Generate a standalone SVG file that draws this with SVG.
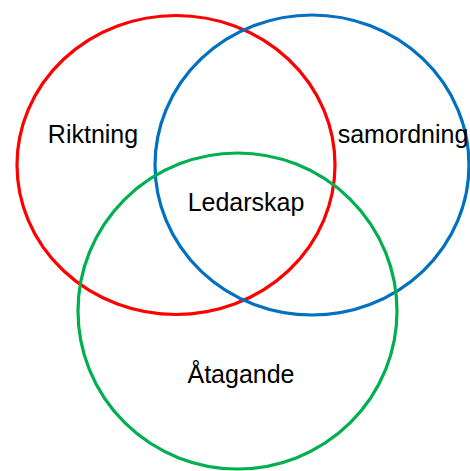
<svg xmlns="http://www.w3.org/2000/svg" width="470" height="471" viewBox="0 0 470 471">
<style>
.c{fill:none;stroke-width:3.2}
.t{font-family:"Liberation Sans",Arial,sans-serif;font-size:25px;fill:#000;text-anchor:middle}
</style>
<rect width="470" height="471" fill="#fff"/>
<g id="riktning">
<ellipse class="c" cx="176" cy="165" rx="159" ry="149.5" stroke="#FF0000"/>
<text class="t" x="93" y="143">Riktning</text>
</g>
<g id="samordning">
<ellipse class="c" cx="312" cy="165" rx="157" ry="150" stroke="#0070C0"/>
<text class="t" x="403" y="143">samordning</text>
</g>
<g id="atagande">
<ellipse class="c" cx="237.5" cy="311" rx="159.5" ry="158" stroke="#00B050"/>
<text class="t" x="241" y="383">Åtagande</text>
</g>
<g id="ledarskap">
<text class="t" x="246" y="211">Ledarskap</text>
</g>
<g id="connectors"/>
</svg>
